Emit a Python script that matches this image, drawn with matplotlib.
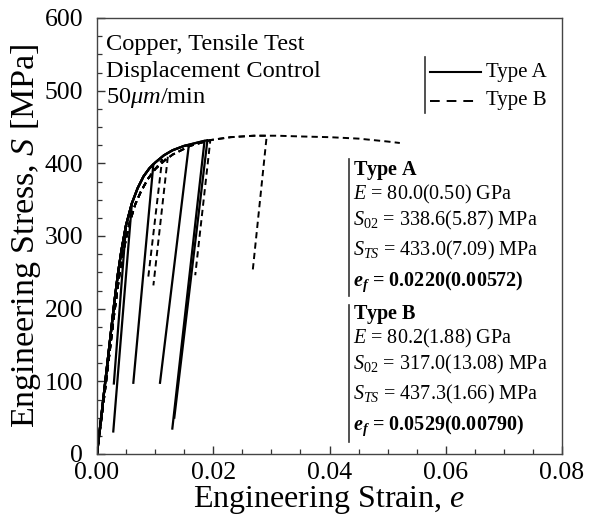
import matplotlib
matplotlib.use("Agg")
import matplotlib.pyplot as plt
from matplotlib.ticker import MultipleLocator

plt.rcParams['font.family'] = 'Liberation Serif'
plt.rcParams['mathtext.fontset'] = 'custom'
plt.rcParams['mathtext.rm'] = 'Liberation Serif'
plt.rcParams['mathtext.it'] = 'Liberation Serif:italic'
plt.rcParams['mathtext.bf'] = 'Liberation Serif:bold'
plt.rcParams['mathtext.bfit'] = 'Liberation Serif:bold:italic'
plt.rcParams['lines.scale_dashes'] = False

# loading paths (strain [-], stress [MPa])
env_a_strain = [0.0, 0.0015, 0.0030, 0.0036, 0.0042, 0.0050, 0.0060, 0.0070,
                0.0080, 0.0090, 0.0100, 0.0115, 0.0130, 0.0150, 0.0170,
                0.0190, 0.0220]
env_a_stress = [0, 105, 210, 248, 280, 315, 345, 366, 382, 393, 401, 411, 418,
                424, 428, 432, 434]

env_b_strain = [0.0, 0.0015, 0.0030, 0.0040, 0.0047, 0.0056, 0.0066, 0.0076,
                0.0088, 0.0100, 0.0115, 0.0130, 0.0160, 0.0195, 0.0230,
                0.0270, 0.0310, 0.0350, 0.0400, 0.0450, 0.0500]
env_b_stress = [0, 95, 195, 255, 285, 318, 344, 362, 379, 392, 403, 412, 424,
                432, 436, 438, 438, 437, 436, 434, 430]

# Type A specimens: peak before unloading, then end of unloading line
a_peak_strain = [0.0050, 0.0060, 0.0097, 0.0158, 0.0185, 0.0190]
a_peak_stress = [315, 345, 399, 425, 431, 432]
a_end_strain = [0.0029, 0.0028, 0.00625, 0.01084, 0.01296, 0.0133]
a_end_stress = [97, 31, 98, 98, 35, 50]

# Type B specimens
b_peak_strain = [0.0112, 0.0122, 0.0195, 0.0292, 0.0521]
b_peak_stress = [405, 410, 432, 438, 428]
b_end_strain = [0.00883, 0.0097, 0.0169, 0.0268, 0.0521]
b_end_stress = [244, 232, 246, 253, 428]

stats_a = [r"$\mathbf{Type\ A}$",
           r"$E$ = 80.0(0.50) GPa",
           r"$S_{\mathit{02}}$ = 338.6(5.87) MPa",
           r"$S_{\mathit{TS}}$ = 433.0(7.09) MPa",
           r"$\mathbfit{e}_{\mathbfit{f}}$ = 0.0220(0.00572)"]
stats_b = [r"$\mathbf{Type\ B}$",
           r"$E$ = 80.2(1.88) GPa",
           r"$S_{\mathit{02}}$ = 317.0(13.08) MPa",
           r"$S_{\mathit{TS}}$ = 437.3(1.66) MPa",
           r"$\mathbfit{e}_{\mathbfit{f}}$ = 0.0529(0.00790)"]


def build_curve(env_x, env_y, px, py, ex, ey):
    xs = [x for x in env_x if x < px]
    ys = env_y[:len(xs)]
    return xs + [px, ex], ys + [py, ey]


fig = plt.figure(figsize=(5.89, 5.25), dpi=100)
ax = fig.add_axes([97 / 589, 1 - 454 / 525, 465 / 589, 436 / 525])

for i in range(len(a_peak_strain)):
    xs, ys = build_curve(env_a_strain, env_a_stress, a_peak_strain[i],
                         a_peak_stress[i], a_end_strain[i], a_end_stress[i])
    ax.plot(xs, ys, color='black', lw=1.6, solid_joinstyle='round')

for i in range(len(b_peak_strain)):
    xs, ys = build_curve(env_b_strain, env_b_stress, b_peak_strain[i],
                         b_peak_stress[i], b_end_strain[i], b_end_stress[i])
    ax.plot(xs, ys, color='black', lw=1.4, dashes=[4.5, 3])

ax.set_xlim(0, 0.08)
ax.set_ylim(0, 600)
ax.xaxis.set_major_locator(MultipleLocator(0.02))
ax.xaxis.set_minor_locator(MultipleLocator(0.005))
ax.yaxis.set_major_locator(MultipleLocator(100))
ax.yaxis.set_minor_locator(MultipleLocator(25))
ax.xaxis.set_major_formatter(matplotlib.ticker.FormatStrFormatter('%.2f'))
ax.tick_params(which='both', direction='in', top=False, right=False,
               colors='#333333', labelcolor='black', labelsize=18.5)
ax.tick_params(which='major', length=6, width=1.0)
ax.tick_params(which='minor', length=3.5, width=0.9)
ax.tick_params(axis='x', pad=6)
ax.tick_params(axis='y', pad=10)
for sp in ax.spines.values():
    sp.set_color('#444444')
    sp.set_linewidth(1.0)

ax.set_xlabel(r"Engineering Strain, $e$", fontsize=23, labelpad=0)
ax.set_ylabel(r"Engineering Stress, $S$ [MPa]", fontsize=24.5, labelpad=1)


def fx(px):
    return (px - 97) / 465


def fy(py):
    return (454 - py) / 436


# top-left description
for txt, by in zip(["Copper, Tensile Test", "Displacement Control",
                    r"50$\mathit{\mu m}$/min"], [50, 77, 103]):
    ax.text(fx(106), fy(by), txt, fontsize=17.6, transform=ax.transAxes,
            va='baseline', ha='left')

# legend drawn by hand with the bar on its left
ax.plot([fx(425), fx(425)], [fy(57), fy(113)], color='#333333', lw=1.2,
        transform=ax.transAxes)
ax.plot([fx(430), fx(481)], [fy(72), fy(72)], color='black', lw=1.5,
        transform=ax.transAxes)
ax.plot([fx(430), fx(479)], [fy(101), fy(101)], color='black', lw=1.4,
        dashes=[7, 5], transform=ax.transAxes)
ax.text(fx(486), fy(72), "Type A", fontsize=15, va='center', ha='left',
        transform=ax.transAxes)
ax.text(fx(486), fy(101), "Type B", fontsize=15, va='center', ha='left',
        transform=ax.transAxes)

# statistics blocks
centers_a = [168, 193, 219, 249, 279]
centers_b = [312, 337, 363, 393, 423]
for lines, centers, bar in [(stats_a, centers_a, (159, 296)),
                            (stats_b, centers_b, (305, 442))]:
    ax.plot([fx(349), fx(349)], [fy(bar[0]), fy(bar[1])], color='#333333',
            lw=1.2, transform=ax.transAxes)
    for j, (txt, cy) in enumerate(zip(lines, centers)):
        w = 'bold' if j in (0, 4) else 'normal'
        ax.text(fx(353), fy(cy + 6.5), txt, fontsize=14.5, fontweight=w,
                va='baseline', ha='left', transform=ax.transAxes)

fig.savefig("out.png", dpi=100)
